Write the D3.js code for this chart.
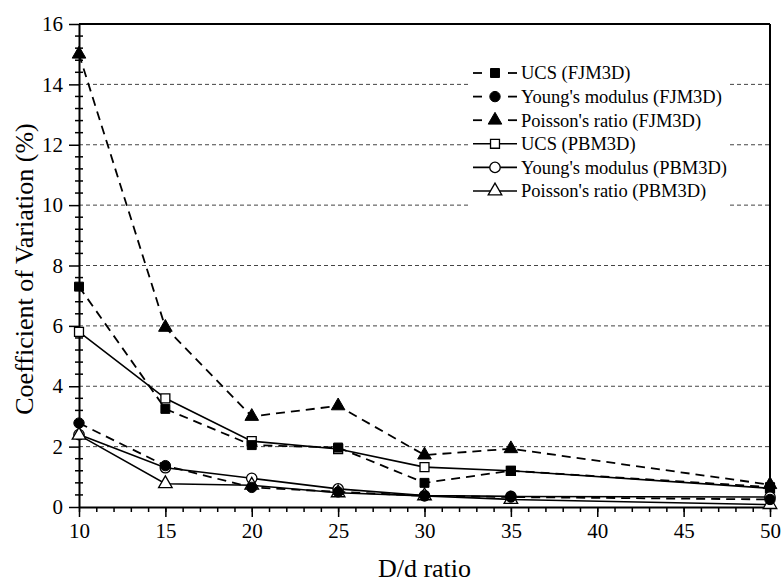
<!DOCTYPE html>
<html>
<head>
<meta charset="utf-8">
<script src="https://cdn.jsdelivr.net/npm/d3@7"></script>
<style>
  html, body { margin: 0; padding: 0; background: #fff; }
  svg { display: block; }
  text { font-family: "Liberation Serif", "Times New Roman", serif; fill: #000; }
</style>
</head>
<body>
<svg id="chart" width="781" height="583"></svg>
<script>
// ---- data ----
const ratios = [10, 15, 20, 25, 30, 35, 50];
const ucsFJM = [7.3, 3.25, 2.05, 1.97, 0.8, 1.2, 0.66];
const youngFJM = [2.78, 1.37, 0.65, 0.5, 0.37, 0.33, 0.25];
const poissonFJM = [15.0, 5.95, 3.0, 3.35, 1.72, 1.93, 0.74];
const ucsPBM = [5.8, 3.6, 2.18, 1.92, 1.32, 1.2, 0.62];
const youngPBM = [2.4, 1.3, 0.95, 0.6, 0.38, 0.35, 0.33];
const poissonPBM = [2.38, 0.77, 0.72, 0.47, 0.37, 0.25, 0.08];
const xTicks = [10, 15, 20, 25, 30, 35, 40, 45, 50];
const yTicks = [0, 2, 4, 6, 8, 10, 12, 14, 16];
const seriesNames = ["UCS (FJM3D)", "Young's modulus (FJM3D)", "Poisson's ratio (FJM3D)",
                     "UCS (PBM3D)", "Young's modulus (PBM3D)", "Poisson's ratio (PBM3D)"];
const xTitle = "D/d ratio";
const yTitle = "Coefficient of Variation (%)";

const series = [
  { name: seriesNames[0], values: ucsFJM, shape: "square", filled: true, dashed: true },
  { name: seriesNames[1], values: youngFJM, shape: "circle", filled: true, dashed: true },
  { name: seriesNames[2], values: poissonFJM, shape: "triangle", filled: true, dashed: true },
  { name: seriesNames[3], values: ucsPBM, shape: "square", filled: false, dashed: false },
  { name: seriesNames[4], values: youngPBM, shape: "circle", filled: false, dashed: false },
  { name: seriesNames[5], values: poissonPBM, shape: "triangle", filled: false, dashed: false }
];

const FONT = "Liberation Serif";
const svg = d3.select("#chart");
const L = 79, R = 770, T = 24, B = 507;
const x = d3.scaleLinear().domain([10, 50]).range([L, R]);
const y = d3.scaleLinear().domain([0, 16]).range([B, T]);

// gridlines
svg.append("g").selectAll("line").data(yTicks.filter(v => v > 0 && v < 16)).join("line")
  .attr("x1", L).attr("x2", R).attr("y1", d => y(d)).attr("y2", d => y(d))
  .attr("stroke", "#444").attr("stroke-width", 1).attr("stroke-dasharray", "4,3");

// frame top/right
svg.append("line").attr("x1", L).attr("x2", R).attr("y1", T).attr("y2", T)
  .attr("stroke", "#000").attr("stroke-width", 2);
svg.append("line").attr("x1", R).attr("x2", R).attr("y1", T).attr("y2", B)
  .attr("stroke", "#000").attr("stroke-width", 2);

// x axis
const xMinor = svg.append("g").attr("transform", `translate(0,${B})`)
  .call(d3.axisBottom(x).tickValues(d3.range(10, 51, 1)).tickSize(5).tickFormat(""));
xMinor.select(".domain").remove();
const xAxis = svg.append("g").attr("transform", `translate(0,${B})`)
  .call(d3.axisBottom(x).tickValues(xTicks).tickSize(10).tickPadding(6).tickSizeOuter(0))
  .attr("font-family", FONT).attr("font-size", 21);
xAxis.select(".domain").attr("stroke-width", 2);
svg.selectAll("g.tick line").attr("stroke-width", 1.5);
xAxis.selectAll("text").style("font-family", FONT).style("font-size", "21px");

// y axis
const yMinorVals = d3.range(0, 81, 2).map(v => v / 5).filter(v => v % 2 !== 0);
svg.append("g").selectAll("line").data(yMinorVals).join("line")
  .attr("x1", L - 4).attr("x2", L + 4).attr("y1", d => y(d)).attr("y2", d => y(d))
  .attr("stroke", "#000").attr("stroke-width", 1.5);
const yAxis = svg.append("g").attr("transform", `translate(${L},0)`)
  .call(d3.axisLeft(y).tickValues(yTicks).tickSize(10).tickPadding(6).tickSizeOuter(0))
  .attr("font-family", FONT).attr("font-size", 21);
yAxis.select(".domain").attr("stroke-width", 2);
yAxis.selectAll(".tick line").attr("stroke-width", 1.5);
yAxis.selectAll("text").style("font-family", FONT).style("font-size", "21px");

// titles
svg.append("text").attr("x", (L + R) / 2).attr("y", 577).attr("text-anchor", "middle")
  .style("font-size", "26px").text(xTitle);
svg.append("text").attr("transform", `translate(33,269) rotate(-90)`)
  .attr("text-anchor", "middle").style("font-size", "26px").text(yTitle);

// symbol helper
const symType = { square: d3.symbolSquare, circle: d3.symbolCircle, triangle: d3.symbolTriangle };
const symSize = { square: 80, circle: 85, triangle: 80 };
function drawMarker(g, s, cx, cy) {
  g.append("path")
    .attr("d", d3.symbol().type(symType[s.shape]).size(symSize[s.shape])())
    .attr("transform", `translate(${cx},${cy})`)
    .attr("fill", s.filled ? "#000" : "#fff")
    .attr("stroke", "#000").attr("stroke-width", s.filled ? 1 : 1.3);
}

// lines (draw PBM first, then FJM on top)
const order = [3, 4, 5, 0, 1, 2];
const line = d3.line().x((d, i) => x(ratios[i])).y(d => y(d));
const plot = svg.append("g");
order.forEach(k => {
  const s = series[k];
  plot.append("path").attr("d", line(s.values)).attr("fill", "none")
    .attr("stroke", "#000").attr("stroke-width", s.dashed ? 1.8 : 1.6)
    .attr("stroke-dasharray", s.dashed ? "9,6" : null);
});
order.forEach(k => {
  const s = series[k];
  s.values.forEach((v, i) => drawMarker(plot, s, x(ratios[i]), y(v)));
});

// legend
const lg = svg.append("g");
lg.append("rect").attr("x", 468).attr("y", 60).attr("width", 262).attr("height", 150).attr("fill", "#fff");
series.forEach((s, i) => {
  const cy = 73 + i * 23.6;
  if (s.dashed) {
    lg.append("line").attr("x1", 473).attr("x2", 482).attr("y1", cy).attr("y2", cy)
      .attr("stroke", "#000").attr("stroke-width", 1.8);
    lg.append("line").attr("x1", 508).attr("x2", 517).attr("y1", cy).attr("y2", cy)
      .attr("stroke", "#000").attr("stroke-width", 1.8);
  } else {
    lg.append("line").attr("x1", 473).attr("x2", 517).attr("y1", cy).attr("y2", cy)
      .attr("stroke", "#000").attr("stroke-width", 1.6);
  }
  drawMarker(lg, s, 495, cy);
  lg.append("text").attr("x", 521).attr("y", cy).attr("dy", "0.35em")
    .style("font-size", "18.5px").text(s.name);
});
</script>
</body>
</html>
